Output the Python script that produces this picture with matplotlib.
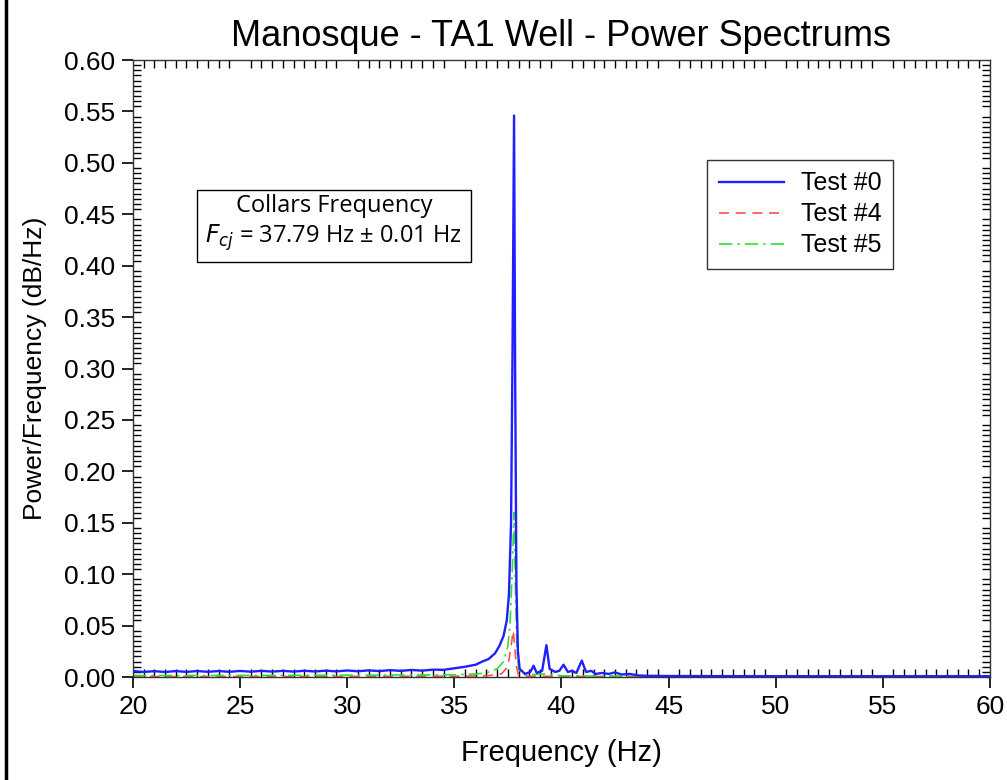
import matplotlib.pyplot as plt
from matplotlib.lines import Line2D
from matplotlib.ticker import MultipleLocator

plt.rcParams["font.family"] = ["Liberation Sans", "DejaVu Sans"]

# Test #0 (blue)
freq_0 = [20.0, 20.5, 21.0, 21.5, 22.0, 22.5, 23.0, 23.5, 24.0, 24.5,
          25.0, 25.5, 26.0, 26.5, 27.0, 27.5, 28.0, 28.5, 29.0, 29.5,
          30.0, 30.5, 31.0, 31.5, 32.0, 32.5, 33.0, 33.5, 34.0, 34.5,
          35.0, 35.5, 36.0, 36.3, 36.6, 36.9, 37.1, 37.3, 37.45, 37.55,
          37.65, 37.72, 37.79, 37.84, 37.90, 37.97, 38.05, 38.3, 38.55, 38.7,
          38.85, 39.1, 39.3, 39.45, 39.7, 39.9, 40.1, 40.3, 40.5, 40.7,
          40.95, 41.15, 41.4, 41.6, 41.9, 42.2, 42.5, 42.8, 43.2, 43.6,
          44.0, 45.0, 47.0, 50.0, 55.0, 60.0]
power_0 = [0.0058, 0.0050, 0.0057, 0.0049, 0.0058, 0.0050, 0.0058, 0.0051, 0.0058, 0.0051,
           0.0059, 0.0052, 0.0060, 0.0053, 0.0060, 0.0053, 0.0061, 0.0054, 0.0062, 0.0055,
           0.0064, 0.0056, 0.0065, 0.0058, 0.0067, 0.0060, 0.0069, 0.0062, 0.0072, 0.0070,
           0.0085, 0.0100, 0.0120, 0.0150, 0.0175, 0.0230, 0.0300, 0.0400, 0.0550, 0.0800,
           0.1500, 0.3200, 0.5460, 0.3000, 0.0900, 0.0250, 0.0080, 0.0030, 0.0050, 0.0110,
           0.0040, 0.0060, 0.0310, 0.0080, 0.0050, 0.0060, 0.0120, 0.0050, 0.0060, 0.0040,
           0.0160, 0.0050, 0.0060, 0.0030, 0.0040, 0.0030, 0.0045, 0.0025, 0.0030, 0.0015,
           0.0012, 0.0010, 0.0009, 0.0008, 0.0008, 0.0008]

# Test #4 (red)
freq_4 = [20.0, 25.0, 30.0, 35.0, 36.5, 37.2, 37.5, 37.65, 37.75, 37.82,
          37.9, 38.0, 38.5, 40.0, 45.0, 60.0]
power_4 = [0.0004, 0.0005, 0.0006, 0.0008, 0.0012, 0.0030, 0.0100, 0.0300, 0.0450, 0.0300,
           0.0100, 0.0020, 0.0008, 0.0006, 0.0004, 0.0004]

# Test #5 (green)
freq_5 = [20.0, 25.0, 30.0, 35.0, 36.0, 36.5, 37.0, 37.3, 37.5, 37.6,
          37.7, 37.79, 37.85, 37.92, 38.0, 38.2, 39.3, 40.0, 45.0, 60.0]
power_5 = [0.0015, 0.0016, 0.0018, 0.0022, 0.0030, 0.0040, 0.0080, 0.0150, 0.0300, 0.0500,
           0.1000, 0.1600, 0.0900, 0.0300, 0.0080, 0.0020, 0.0030, 0.0012, 0.0006, 0.0006]

fig = plt.figure(figsize=(10.07, 7.8), dpi=100)
ax = fig.add_axes([0.132, 0.132, 0.851, 0.791])

ax.plot(freq_0, power_0, color="#1f1fff", lw=1.7, label="Test #0", zorder=3)
ax.plot(freq_4, power_4, color="#ff5050", lw=1.2, ls=(0, (6, 4)), label="Test #4", zorder=2)
ax.plot(freq_5, power_5, color="#30e030", lw=1.2, ls=(0, (8, 3, 1.5, 3)), label="Test #5", zorder=2)

ax.set_xlim(20, 60)
ax.set_ylim(0, 0.6)
ax.xaxis.set_major_locator(MultipleLocator(5))
ax.xaxis.set_minor_locator(MultipleLocator(0.5))
ax.yaxis.set_major_locator(MultipleLocator(0.05))
ax.yaxis.set_minor_locator(MultipleLocator(0.005))
ax.yaxis.set_major_formatter(plt.FormatStrFormatter("%.2f"))

ax.tick_params(which="major", direction="out", length=8, width=1.2,
               labelsize=19, top=False, right=False, pad=5)
ax.tick_params(which="minor", direction="in", length=6, width=1.0,
               top=True, right=True, bottom=True, left=True)
for s in ax.spines.values():
    s.set_linewidth(1.0)
    s.set_color("#333333")

ax.set_xlabel("Frequency (Hz)", fontsize=21, labelpad=14)
ax.set_ylabel("Power/Frequency (dB/Hz)", fontsize=19, labelpad=12)
ax.set_title("Manosque - TA1 Well - Power Spectrums", fontsize=26, pad=10)

leg = ax.legend(loc="upper right", bbox_to_anchor=(0.887, 0.838), borderaxespad=0,
                fancybox=False, edgecolor="black", fontsize=18, handlelength=2.6,
                labelspacing=0.28, borderpad=0.45, handletextpad=0.7)
leg.get_frame().set_linewidth(1.0)

ax.text(0.2345, 0.735, "Collars Frequency\n$F_{cj}$ = 37.79 Hz ± 0.01 Hz",
        transform=ax.transAxes, ha="center", va="center", fontsize=17,
        family=["Open Sans", "DejaVu Sans"], linespacing=1.25,
        bbox=dict(boxstyle="square,pad=0.35", facecolor="white", edgecolor="black", lw=1.0))

fig.add_artist(Line2D([6 / 1007, 6 / 1007], [0, 1], color="black", lw=2.5,
                      transform=fig.transFigure))

fig.savefig("out.png", dpi=100)
